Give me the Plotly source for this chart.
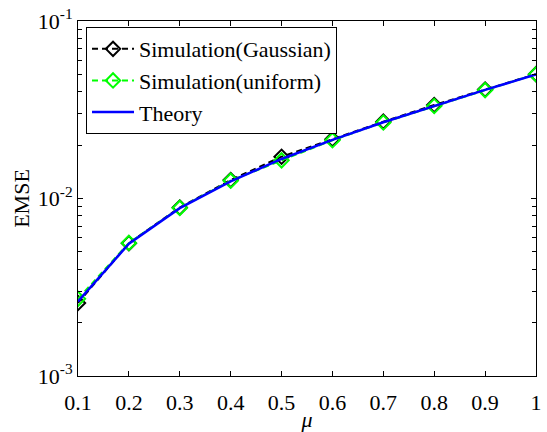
import plotly.graph_objects as go

mu = [0.1, 0.2, 0.3, 0.4, 0.5, 0.6, 0.7, 0.8, 0.9, 1.0]
sim_gaussian = [0.00258, 0.00560, 0.00890, 0.0127, 0.0172, 0.0216, 0.0271, 0.0336, 0.0411, 0.0502]
sim_uniform = [0.00272, 0.00562, 0.00885, 0.0126, 0.0164, 0.0213, 0.0268, 0.0332, 0.0408, 0.0501]
theory = [0.00263, 0.00556, 0.00882, 0.0125, 0.0167, 0.0214, 0.0269, 0.0333, 0.0409, 0.0500]

x_ticks = [0.1, 0.2, 0.3, 0.4, 0.5, 0.6, 0.7, 0.8, 0.9, 1.0]
x_ticklabels = ["0.1", "0.2", "0.3", "0.4", "0.5", "0.6", "0.7", "0.8", "0.9", "1"]
y_ticks = [1e-3, 1e-2, 1e-1]
y_ticklabels = ["10<sup>-3</sup>", "10<sup>-2</sup>", "10<sup>-1</sup>"]

FONT = "Liberation Serif"

fig = go.Figure()
fig.add_trace(go.Scatter(
    x=mu, y=sim_gaussian, mode="lines+markers", name="Simulation(Gaussian)",
    line=dict(color="black", width=2, dash="6px,4px"),
    marker=dict(symbol="diamond-open", size=11, color="black", line=dict(width=2)),
))
fig.add_trace(go.Scatter(
    x=mu, y=sim_uniform, mode="lines+markers", name="Simulation(uniform)",
    line=dict(color="#00ff00", width=2, dash="6px,4px"),
    marker=dict(symbol="diamond-open", size=11, color="#00ff00", line=dict(width=2)),
))
fig.add_trace(go.Scatter(
    x=mu, y=theory, mode="lines", name="Theory",
    line=dict(color="#0000ff", width=2.5),
))

fig.update_layout(
    width=547, height=432,
    margin=dict(l=78, r=11, t=21, b=56, autoexpand=False),
    paper_bgcolor="white", plot_bgcolor="white",
    font=dict(family=FONT, size=22, color="black"),
    showlegend=True,
    legend=dict(
        x=0.0175, y=0.983, xanchor="left", yanchor="top",
        bgcolor="white", bordercolor="black", borderwidth=1,
        font=dict(family=FONT, size=22, color="black"),
        itemwidth=42, tracegroupgap=0,
    ),
    xaxis=dict(
        range=[0.1, 1.0], tickvals=x_ticks, ticktext=x_ticklabels,
        ticks="inside", ticklen=5, tickcolor="black", mirror="allticks",
        showline=True, linecolor="black", linewidth=1, showgrid=False, zeroline=False,
        ticklabelstandoff=7, automargin=False,
        title=dict(text="<i>μ</i>", font=dict(family=FONT, size=22), standoff=2),
        tickfont=dict(family=FONT, size=22),
    ),
    yaxis=dict(
        type="log", range=[-3, -1], tickvals=y_ticks, ticktext=y_ticklabels,
        ticks="inside", ticklen=5, tickcolor="black", mirror="allticks",
        showline=True, linecolor="black", linewidth=1, showgrid=False, zeroline=False,
        automargin=False,
        minor=dict(ticks="inside", ticklen=4, tickcolor="black", dtick="D1", showgrid=False),
        title=dict(text="EMSE", font=dict(family=FONT, size=22), standoff=2),
        tickfont=dict(family=FONT, size=22),
    ),
)

fig.write_html("out.html")
